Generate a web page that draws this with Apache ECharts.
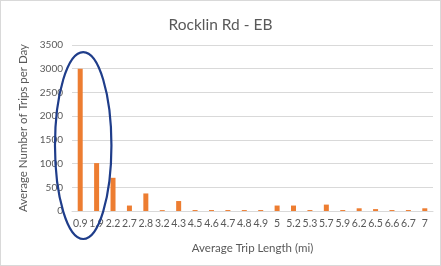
<!DOCTYPE html>
<html>
<head>
<meta charset="utf-8">
<script src="https://cdn.jsdelivr.net/npm/echarts@6/dist/echarts.min.js"></script>
<style>
  html, body { margin: 0; padding: 0; background: #fff; }
  #chart { width: 441px; height: 266px; box-sizing: border-box; border: 1px solid #d9d9d9; }
</style>
</head>
<body>
<div id="chart"></div>
<script>
// trip length buckets (mi) and average trips per day
const tripLengths = ['0.9', '1.9', '2.2', '2.7', '2.8', '3.2', '4.3', '4.5', '4.6', '4.7', '4.8',
  '4.9', '5', '5.2', '5.3', '5.7', '5.9', '6.2', '6.5', '6.6', '6.7', '7'];
const tripsPerDay = [3000, 1010, 700, 115, 370, 18, 210, 20, 20, 20, 20,
  20, 115, 115, 20, 135, 20, 57, 40, 20, 20, 57];
const yTicks = { min: 0, max: 3500, interval: 500 };

const chart = echarts.init(document.getElementById('chart'));
const font = 'Lato, "Open Sans", sans-serif';

const option = {
  animation: false,
  title: {
    text: 'Rocklin Rd - EB',
    left: 'center',
    top: 11,
    textStyle: { fontFamily: font, fontSize: 15.5, fontWeight: 'normal', color: '#595959' }
  },
  grid: { left: 71, right: 7, top: 44, bottom: 54 },
  xAxis: {
    type: 'category',
    data: tripLengths,
    name: 'Average Trip Length (mi)',
    nameLocation: 'middle',
    nameGap: 31,
    nameTextStyle: { fontFamily: font, fontSize: 11.5, color: '#595959' },
    axisLine: { lineStyle: { color: '#d9d9d9' } },
    axisTick: { show: false },
    axisLabel: { interval: 0, fontFamily: font, fontSize: 10.5, color: '#595959', margin: 7 }
  },
  yAxis: {
    type: 'value',
    min: yTicks.min,
    max: yTicks.max,
    interval: yTicks.interval,
    name: 'Average Number of Trips per Day',
    nameLocation: 'middle',
    nameGap: 37,
    nameTextStyle: { fontFamily: font, fontSize: 11.5, color: '#595959' },
    axisLabel: { fontFamily: font, fontSize: 10, color: '#595959', margin: 9, formatter: v => String(v) },
    splitLine: { lineStyle: { color: '#d9d9d9' } }
  },
  series: [{
    type: 'bar',
    data: tripsPerDay,
    barWidth: 5,
    itemStyle: { color: '#ed7d31' }
  }]
};

chart.setOption(option);

// hand-drawn style ellipse around the two shortest trip buckets
const ellTop = chart.convertToPixel({ xAxisIndex: 0, yAxisIndex: 0 }, [0, 3350]);
const ellBottom = chart.convertToPixel({ xAxisIndex: 0, yAxisIndex: 0 }, [0, -590]);
const nextBar = chart.convertToPixel({ xAxisIndex: 0, yAxisIndex: 0 }, [1, 0]);
chart.setOption({
  graphic: [{
    type: 'ellipse',
    shape: {
      cx: ellTop[0] + 3,
      cy: (ellTop[1] + ellBottom[1]) / 2,
      rx: (nextBar[0] - ellTop[0]) * 1.72,
      ry: (ellBottom[1] - ellTop[1]) / 2
    },
    style: { fill: null, stroke: '#1f3d8a', lineWidth: 2.2 },
    z: 100
  }]
});
</script>
</body>
</html>
